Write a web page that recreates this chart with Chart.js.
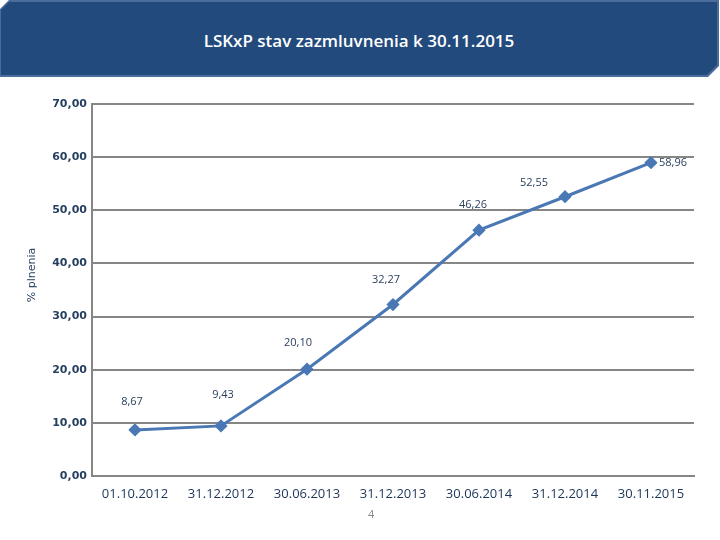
<!DOCTYPE html>
<html>
<head>
<meta charset="utf-8">
<script src="https://cdn.jsdelivr.net/npm/chart.js@4"></script>
<style>
    html, body { margin: 0; padding: 0; background: #fff; }
    #wrap { position: relative; width: 720px; height: 540px; }
    #bar {
        position: absolute; left: 0; top: 0; width: 719px; height: 77px;
        background: #4a6d9c;
        clip-path: polygon(9px 0, 100% 0, 100% calc(100% - 11px), calc(100% - 11px) 100%, 0 100%, 0 9px);
    }
    #barInner {
        position: absolute; left: 1px; top: 2px; right: 2px; bottom: 2px;
        background: #224a7c;
        clip-path: polygon(8px 0, 100% 0, 100% calc(100% - 10px), calc(100% - 10px) 100%, 0 100%, 0 8px);
        color: #fff; font-family: 'Open Sans', sans-serif; font-size: 17px; font-weight: 600;
        display: flex; align-items: center; justify-content: center; padding-top: 3px; box-sizing: border-box;
    }
    #page { position: absolute; left: 368px; top: 506px; font: 11px 'Open Sans', sans-serif; color: #8a8a8a; }
    canvas { position: absolute; left: 0; top: 0; }
</style>
</head>
<body>
<div id="wrap">
    <canvas id="chart" width="720" height="540"></canvas>
    <div id="bar"><div id="barInner">LSKxP stav zazmluvnenia k 30.11.2015</div></div>
    <div id="page">4</div>
</div>
<script>
// Data
const dates = ['01.10.2012', '31.12.2012', '30.06.2013', '31.12.2013', '30.06.2014', '31.12.2014', '30.11.2015'];
const plnenie = [8.67, 9.43, 20.10, 32.27, 46.26, 52.55, 58.96];
const yTicks = [0, 10, 20, 30, 40, 50, 60, 70];
const yTitle = '% plnenia';

// label placement (px from point)
const labelDx = [-3, 2, -9, -7, -6, -31, 22];
const labelDy = [-28, -31, -26, -25, -25, -14, 0];

const fmt = v => Number(v).toFixed(2).replace('.', ',');

// Data labels + y axis title
const valueLabels = {
    id: 'valueLabels',
    afterDatasetsDraw(chart) {
        const ctx = chart.ctx;
        const meta = chart.getDatasetMeta(0);
        ctx.save();
        ctx.font = '11px "Open Sans", sans-serif';
        ctx.fillStyle = '#2a3f5c';
        ctx.textBaseline = 'middle';
        meta.data.forEach((pt, i) => {
            const dx = labelDx[i];
            ctx.textAlign = dx > 15 ? 'left' : 'center';
            ctx.fillText(fmt(plnenie[i]), pt.x + (dx > 15 ? 8 : dx), pt.y + labelDy[i]);
        });

        // axis title sits a bit above the middle of the plot
        const area = chart.chartArea;
        ctx.translate(32, (area.top + area.bottom) / 2 - 15);
        ctx.rotate(-Math.PI / 2);
        ctx.textAlign = 'center';
        ctx.font = '11px "DejaVu Sans", sans-serif';
        ctx.fillStyle = '#243f60';
        ctx.fillText(yTitle, 0, 0);
        ctx.restore();
    }
};

new Chart(document.getElementById('chart'), {
    type: 'line',
    data: {
        labels: dates,
        datasets: [{
            data: plnenie,
            borderColor: '#4a78b4',
            backgroundColor: '#4a78b4',
            borderWidth: 3,
            pointStyle: 'rectRot',
            pointRadius: 4.5,
            pointHoverRadius: 4.5,
            tension: 0
        }]
    },
    options: {
        responsive: false,
        animation: false,
        events: [],
        layout: { padding: { left: 21, right: 26, top: 104, bottom: 24 } },
        plugins: {
            legend: { display: false },
            tooltip: { enabled: false }
        },
        scales: {
            x: {
                offset: true,
                grid: { display: false, drawTicks: false },
                border: { display: true, color: '#868686', width: 2 },
                ticks: {
                    padding: 10,
                    color: '#1c3558',
                    font: { family: 'Open Sans', size: 13 },
                    maxRotation: 0
                },
                afterFit: s => { s.height = 40; }
            },
            y: {
                min: 0,
                max: 70,
                afterBuildTicks: s => { s.ticks = yTicks.map(v => ({ value: v })); },
                grid: { color: '#868686', lineWidth: 2, drawTicks: false },
                border: { display: true, color: '#868686', width: 2 },
                ticks: {
                    padding: 5,
                    color: '#243f60',
                    font: { family: 'DejaVu Sans', size: 11, weight: 'bold' },
                    callback: v => fmt(v)
                },
                afterFit: s => { s.width = 71; }
            }
        }
    },
    plugins: [valueLabels]
});
</script>
</body>
</html>
